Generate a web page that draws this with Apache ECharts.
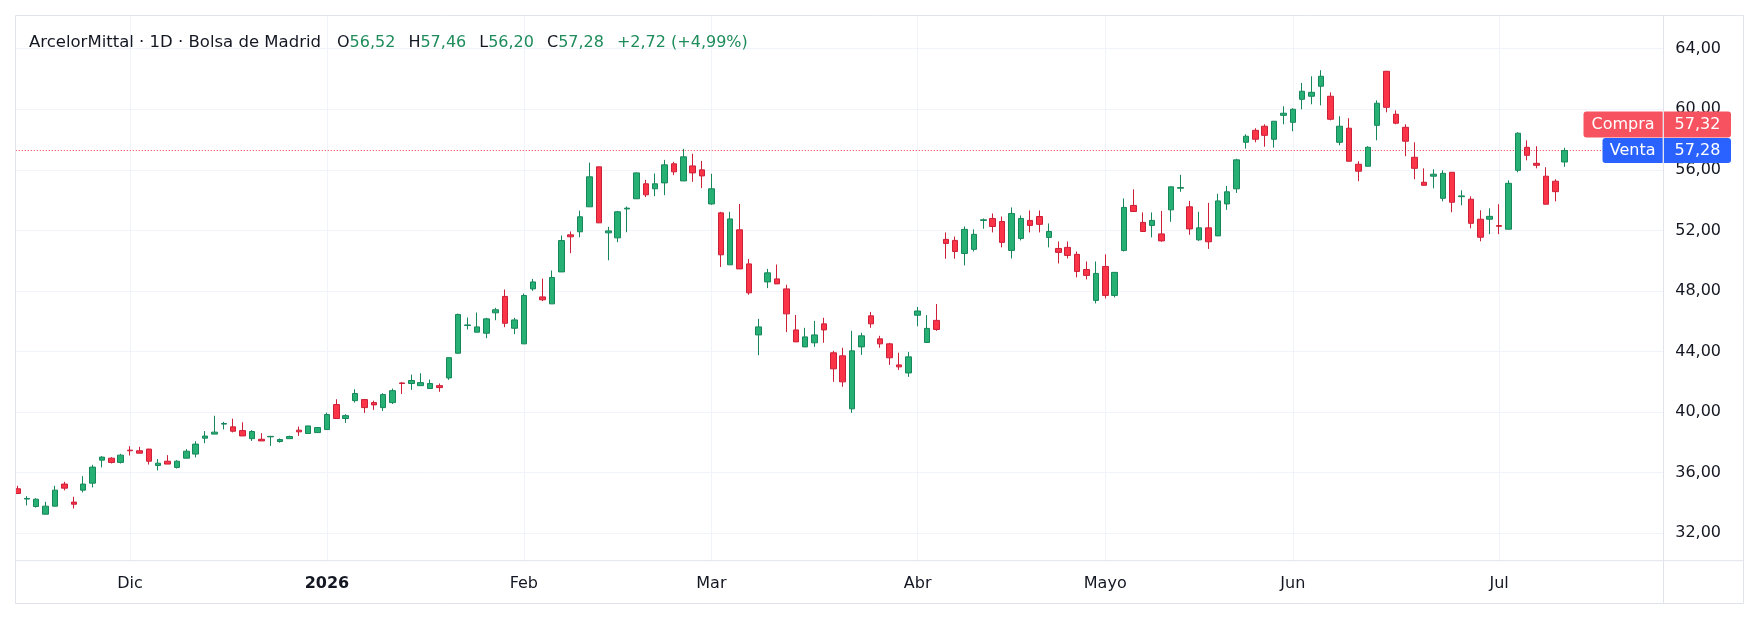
<!DOCTYPE html>
<html>
<head>
<meta charset="utf-8">
<script src="https://cdn.jsdelivr.net/npm/echarts@6/dist/echarts.min.js"></script>
<style>
    html, body { margin: 0; padding: 0; background: #fff; }
    #chart { width: 1760px; height: 620px; }
</style>
</head>
<body>
<div id="chart"></div>
<script>
// velas diarias, 13 nov 2025 - 10 jul 2026
var opens = [34.94, 34.26, 33.77, 33.26, 33.79, 35.25, 34.06, 34.85, 35.31, 36.83, 36.96, 36.68,
    37.49, 37.45, 37.56, 36.48, 36.76, 36.35, 36.96, 37.23, 38.28, 38.55, 39.21, 39.03, 38.78, 38.25,
    38.21, 38.37, 38.06, 38.25, 38.81, 38.59, 38.65,
    38.85, 40.50, 39.58, 40.76, 40.83, 40.63, 40.30, 40.63, 41.93, 41.89, 41.75, 41.56, 41.75, 42.26,
    43.89, 45.72, 45.28, 45.21, 46.56, 47.64, 45.54,
    44.51, 48.14, 47.61, 47.15, 49.26, 51.71, 51.91, 53.56, 56.20, 51.84, 51.51, 53.42, 54.09, 55.08,
    54.75, 55.14, 56.40, 55.27, 56.26, 56.00,
    53.75, 53.16, 49.73, 52.04, 49.79, 45.10, 48.60, 48.80, 48.14, 45.43, 44.31, 44.58, 45.83, 43.92,
    43.72, 40.22, 44.31, 46.36, 44.84, 44.51, 43.12, 42.59,
    46.40, 44.60, 46.06, 51.41, 51.34, 50.48, 50.75, 52.66, 52.79, 52.59, 50.68, 51.47, 52.66, 52.92,
    51.54, 50.81, 50.88, 50.42, 49.42, 47.38,
    49.62, 47.71, 50.68, 53.65, 52.53, 52.33, 51.77, 53.36, 54.79, 53.56, 51.38, 52.17, 51.64, 53.75,
    54.75, 57.82, 58.61, 58.88, 58.02, 59.60,
    59.14, 60.66, 60.86, 61.52, 60.86, 57.82, 58.75, 56.37, 56.24, 58.94, 62.51, 59.67, 58.81, 56.83,
    55.18, 55.58, 54.12, 55.84, 54.23, 54.06, 52.74, 52.74,
    52.32, 52.08, 55.97, 57.49, 56.43, 55.58, 55.25, 56.52];
var highs = [35.14, 34.45, 34.32, 34.08, 35.14, 35.40, 34.41, 35.77, 36.52, 37.09, 37.03, 37.25,
    37.75, 37.71, 37.58, 36.90, 37.16, 36.83, 37.56, 38.08, 38.75, 39.76, 39.36, 39.57, 39.33, 38.81,
    38.61, 38.41, 38.26, 38.45, 39.05, 39.10, 39.00,
    39.97, 40.85, 39.86, 41.51, 40.85, 40.76, 41.25, 41.56, 41.98, 42.48, 42.57, 42.15, 41.89, 43.61,
    46.51, 46.25, 46.58, 46.23, 46.89, 48.10, 46.23,
    47.83, 48.80, 48.82, 49.35, 51.66, 51.93, 53.31, 56.48, 56.22, 52.24, 53.29, 53.58, 55.82, 55.34,
    55.76, 56.66, 56.53, 57.39, 57.06, 56.59,
    55.74, 53.23, 53.23, 53.75, 50.12, 46.16, 49.46, 49.75, 48.41, 46.42, 45.57, 46.03, 46.23, 44.05,
    44.25, 45.37, 45.24, 46.62, 45.04, 44.58, 43.92, 43.98,
    46.95, 46.41, 47.14, 51.87, 51.60, 52.26, 52.07, 52.79, 53.12, 52.92, 53.52, 52.99, 53.32, 53.32,
    52.46, 51.27, 51.27, 50.61, 49.95, 49.95,
    50.42, 49.24, 54.11, 54.71, 53.19, 53.19, 53.29, 54.89, 55.67, 53.95, 53.23, 53.82, 54.42, 54.94,
    56.73, 58.35, 58.75, 59.01, 59.22, 60.20,
    60.07, 61.74, 62.18, 62.58, 61.12, 59.54, 59.41, 56.57, 57.56, 60.59, 62.52, 59.93, 59.01, 57.82,
    56.10, 56.04, 55.97, 55.85, 54.65, 54.25, 53.33, 53.46,
    53.73, 55.31, 58.48, 57.95, 57.56, 56.17, 55.38, 57.46];
var lows = [34.60, 33.84, 33.70, 33.26, 33.79, 34.83, 33.64, 34.70, 35.03, 36.35, 36.61, 36.61,
    37.14, 37.28, 36.54, 36.15, 36.57, 36.28, 36.96, 37.01, 37.95, 38.55, 38.86, 38.66, 38.43, 38.10,
    38.10, 37.77, 37.99, 38.25, 38.43, 38.58, 38.63,
    38.84, 39.57, 39.29, 40.63, 39.95, 40.15, 40.08, 40.54, 41.20, 41.47, 41.75, 41.55, 41.34, 42.13,
    43.88, 45.46, 45.28, 44.88, 46.07, 45.61, 45.15,
    44.50, 48.01, 47.33, 47.15, 49.26, 50.50, 51.55, 53.56, 52.49, 50.03, 51.22, 51.88, 54.08, 54.20,
    54.26, 54.33, 55.65, 55.27, 55.21, 54.79,
    53.69, 49.59, 49.73, 49.45, 47.75, 43.76, 48.19, 48.47, 45.28, 44.64, 44.30, 44.31, 44.58, 42.00,
    41.67, 39.95, 43.78, 45.57, 44.25, 43.12, 42.79, 42.33,
    45.67, 44.60, 45.37, 50.13, 50.13, 49.69, 50.61, 52.11, 51.87, 50.88, 50.15, 51.34, 51.87, 51.87,
    50.88, 49.82, 50.15, 48.90, 48.76, 47.18,
    47.51, 47.58, 50.61, 53.24, 51.92, 51.54, 51.25, 52.57, 54.55, 51.71, 51.31, 50.78, 51.64, 53.36,
    54.48, 57.40, 57.82, 57.53, 57.47, 59.01,
    58.55, 60.00, 60.33, 60.26, 59.27, 57.62, 56.56, 55.25, 56.23, 57.95, 59.80, 59.01, 56.90, 55.38,
    54.97, 54.78, 53.92, 53.20, 53.66, 52.14, 51.28, 51.75,
    51.75, 52.07, 55.84, 56.63, 56.10, 53.72, 53.92, 56.20];
var closes = [34.63, 34.30, 34.25, 33.79, 34.85, 34.98, 33.92, 35.25, 36.37, 37.03, 36.68, 37.16,
    37.45, 37.29, 36.76, 36.63, 36.57, 36.76, 37.42, 37.89, 38.42, 38.68, 39.25, 38.74, 38.43, 38.72,
    38.10, 38.40, 38.19, 38.39, 38.70, 39.09, 38.98,
    39.84, 39.58, 39.77, 41.23, 40.30, 40.48, 41.16, 41.42, 41.89, 42.09, 41.95, 41.89, 41.62, 43.60,
    46.45, 45.76, 45.63, 46.16, 46.76, 45.87, 46.09,
    47.70, 48.60, 47.42, 48.89, 51.33, 51.58, 52.90, 55.54, 52.50, 51.97, 53.23, 53.47, 55.80, 54.35,
    55.08, 56.33, 55.87, 56.86, 55.80, 55.60,
    54.75, 50.39, 52.76, 49.46, 47.88, 45.63, 49.20, 48.47, 46.49, 44.64, 44.97, 45.10, 45.43, 42.86,
    42.00, 44.05, 45.04, 45.83, 44.51, 43.59, 42.99, 43.65,
    46.68, 45.53, 45.46, 51.14, 50.61, 52.07, 51.74, 52.70, 52.26, 51.21, 53.12, 52.79, 52.33, 52.40,
    51.93, 50.55, 50.35, 49.29, 49.03, 49.16,
    47.71, 49.23, 53.52, 53.25, 51.93, 52.66, 51.31, 54.88, 54.83, 52.10, 52.17, 51.25, 53.95, 54.55,
    56.66, 58.22, 58.02, 58.28, 59.21, 59.74,
    60.00, 61.19, 61.12, 62.18, 59.34, 58.88, 56.57, 55.91, 57.49, 60.40, 60.13, 59.08, 57.89, 56.10,
    54.98, 55.71, 55.77, 53.86, 54.28, 52.47, 51.55, 52.93,
    52.27, 55.11, 58.42, 56.96, 56.30, 53.73, 54.56, 57.28];

var priceTicks = [32, 36, 40, 44, 48, 52, 56, 60, 64];
var bidPrice = 57.32;   // Compra
var askPrice = 57.28;   // Venta
var monthNames = ['Ene', 'Feb', 'Mar', 'Abr', 'Mayo', 'Jun', 'Jul', 'Ago', 'Sep', 'Oct', 'Nov', 'Dic'];
var holidays = ['2025-12-25', '2025-12-26', '2026-01-01', '2026-04-03', '2026-04-06', '2026-05-01'];
var emptySlots = 10;

var UP = '#26b074', UP_BORDER = '#16875a';
var DOWN = '#fb3448', DOWN_BORDER = '#cc1f38';
var FONT = 'DejaVu Sans';

// dias de sesion de la bolsa
function tradingDays(count) {
    var out = [];
    var d = new Date(Date.UTC(2025, 10, 13));
    while (out.length < count) {
        var s = d.toISOString().slice(0, 10);
        var wd = d.getUTCDay();
        if (wd !== 0 && wd !== 6 && holidays.indexOf(s) < 0) out.push(s);
        d.setUTCDate(d.getUTCDate() + 1);
    }
    return out;
}
var days = tradingDays(opens.length + emptySlots);

var monthStart = {};
var monthLines = [];
for (var i = 1; i < days.length; i++) {
    if (days[i].slice(5, 7) !== days[i - 1].slice(5, 7)) {
        monthStart[i] = true;
        monthLines.push({xAxis: days[i]});
    }
}

var candleData = opens.map(function (o, k) {
    return [o, closes[k], lows[k], highs[k]];
});

function fmt(v) {
    return v.toFixed(2).replace('.', ',');
}

var n = closes.length - 1;
var change = closes[n] - closes[n - 1];
var pct = change / closes[n - 1] * 100;
var header = '{n|ArcelorMittal · 1D · Bolsa de Madrid}' +
    '{f|O}{v|' + fmt(opens[n]) + '}' +
    '{k|H}{v|' + fmt(highs[n]) + '}' +
    '{k|L}{v|' + fmt(lows[n]) + '}' +
    '{k|C}{v|' + fmt(closes[n]) + '}' +
    '{c|' + (change >= 0 ? '+' : '') + fmt(change) + ' (' + (pct >= 0 ? '+' : '') + fmt(pct) + '%)}';

var gridLines = priceTicks.map(function (p) {
    return {yAxis: p};
}).concat(monthLines);

var GRID_LEFT = 12.8, GRID_RIGHT = 96.8, GRID_TOP = 16, GRID_BOTTOM = 59.3;

var myChart = echarts.init(document.getElementById('chart'));
var option = {
    animation: false,
    backgroundColor: '#fff',
    title: {
        left: 29,
        top: 34,
        padding: 0,
        text: header,
        textStyle: {
            fontFamily: FONT,
            fontSize: 16,
            fontWeight: 'normal',
            rich: {
                n: {color: '#131722', fontFamily: FONT, fontSize: 16.5},
                f: {color: '#131722', fontFamily: FONT, fontSize: 16, padding: [0, 0, 0, 16]},
                k: {color: '#131722', fontFamily: FONT, fontSize: 16, padding: [0, 0, 0, 13]},
                v: {color: '#1e8c5b', fontFamily: FONT, fontSize: 16},
                c: {color: '#1e8c5b', fontFamily: FONT, fontSize: 16, padding: [0, 0, 0, 13]}
            }
        }
    },
    grid: {
        left: GRID_LEFT,
        right: GRID_RIGHT,
        top: GRID_TOP,
        bottom: GRID_BOTTOM,
        outerBoundsMode: 'none'
    },
    xAxis: {
        type: 'category',
        data: days,
        boundaryGap: true,
        axisLine: {show: false},
        axisTick: {show: false},
        splitLine: {show: false},
        axisLabel: {
            margin: 15,
            color: '#131722',
            fontFamily: FONT,
            fontSize: 16,
            interval: function (index) {
                return !!monthStart[index];
            },
            formatter: function (value) {
                var m = parseInt(value.slice(5, 7), 10);
                if (m === 1) return '{b|' + value.slice(0, 4) + '}';
                return monthNames[m - 1];
            },
            rich: {
                b: {fontWeight: 'bold', fontFamily: FONT, fontSize: 16, color: '#131722'}
            }
        }
    },
    yAxis: {
        type: 'value',
        position: 'right',
        min: 30.19,
        max: 66.16,
        axisLine: {show: false},
        axisTick: {show: false},
        splitLine: {show: false},
        axisLabel: {
            customValues: priceTicks,
            margin: 12,
            color: '#131722',
            fontFamily: FONT,
            fontSize: 16,
            formatter: function (v) {
                return fmt(v);
            }
        }
    },
    series: [{
        type: 'candlestick',
        data: candleData,
        barWidth: 6,
        clip: true,
        itemStyle: {
            color: UP,
            color0: DOWN,
            borderColor: UP_BORDER,
            borderColor0: DOWN_BORDER,
            borderWidth: 1
        },
        markLine: {
            silent: true,
            z: 1,
            symbol: ['none', 'none'],
            label: {show: false},
            lineStyle: {color: '#f0f3fa', width: 1, type: 'solid'},
            data: gridLines.concat([{
                yAxis: (bidPrice + askPrice) / 2,
                lineStyle: {color: '#f23645', width: 1, type: [1, 2]}
            }])
        }
    }]
};
myChart.setOption(option);

// etiquetas Compra / Venta y marco
var yAsk = myChart.convertToPixel({yAxisIndex: 0}, askPrice);
var W = myChart.getWidth(), H = myChart.getHeight();
var sep = W - GRID_RIGHT + 0.3;
var frameColor = '#e0e3eb';

function priceTag(y, h, labelW, fill, label, value) {
    return [
        {type: 'rect', z: 110, shape: {x: sep - labelW, y: y, width: labelW - 0.8, height: h, r: [3, 0, 0, 3]}, style: {fill: fill}},
        {type: 'rect', z: 110, shape: {x: sep + 0.5, y: y, width: 67, height: h, r: [0, 3, 3, 0]}, style: {fill: fill}},
        {type: 'text', z: 111, x: sep - labelW / 2 - 0.4, y: y + h / 2, style: {text: label, fill: '#fff', font: '16px ' + FONT, align: 'center', verticalAlign: 'middle'}},
        {type: 'text', z: 111, x: sep + 34, y: y + h / 2, style: {text: value, fill: '#fff', font: '16px ' + FONT, align: 'center', verticalAlign: 'middle'}}
    ];
}

var graphics = [
    {type: 'rect', z: 100, shape: {x: 0, y: 0, width: 15.5, height: H}, style: {fill: '#fff'}},
    {type: 'rect', z: 101, shape: {x: 15.5, y: 15.5, width: 1728, height: 588}, style: {fill: 'none', stroke: frameColor, lineWidth: 1}},
    {type: 'line', z: 101, shape: {x1: 16, y1: H - GRID_BOTTOM, x2: 1743, y2: H - GRID_BOTTOM}, style: {stroke: frameColor, lineWidth: 1}},
    {type: 'line', z: 101, shape: {x1: sep, y1: 16, x2: sep, y2: 603}, style: {stroke: frameColor, lineWidth: 1}}
].concat(
    priceTag(yAsk - 12.5, 25, 61, '#2962ff', 'Venta', fmt(askPrice)),
    priceTag(yAsk - 39, 26, 80, '#f7525f', 'Compra', fmt(bidPrice))
);

myChart.setOption({graphic: {elements: graphics}});
</script>
</body>
</html>
